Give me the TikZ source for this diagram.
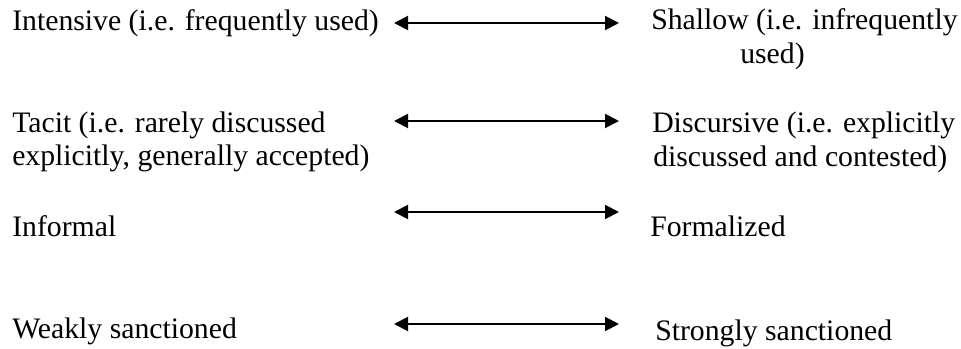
\documentclass[tikz,border=0pt]{standalone}
\usepackage{fontspec}
\setmainfont{Liberation Serif}
\usetikzlibrary{arrows.meta}
\begin{document}
\begin{tikzpicture}[x=0.75pt,y=-0.75pt,
  lbl/.style={anchor=base west, inner sep=0pt, font=\fontsize{22.3}{26}\selectfont},
  twoway/.style={{Triangle[length=10.5pt,width=10.5pt]}-{Triangle[length=10.5pt,width=10.5pt]}, line width=1.5pt}]
\useasboundingbox (0,0) rectangle (961,349);
% left column
\node[lbl] (l1)  at (12,31)  {Intensive (i.e. frequently used)};
\node[lbl] (l2a) at (12,133) {Tacit (i.e. rarely discussed};
\node[lbl] (l2b) at (12,166) {explicitly, generally accepted)};
\node[lbl] (l3)  at (12,237) {Informal};
\node[lbl] (l4)  at (12,339) {Weakly sanctioned};
% right column
\node[lbl] (r1a) at (651,30)  {Shallow (i.e. infrequently};
\node[lbl] (r1b) at (740,64)  {used)};
\node[lbl] (r2a) at (652,133) {Discursive (i.e. explicitly};
\node[lbl] (r2b) at (653,167) {discussed and contested)};
\node[lbl] (r3)  at (650,237) {Formalized};
\node[lbl] (r4)  at (655,340) {Strongly sanctioned};
% arrow ends
\coordinate (a1l) at (394,23);  \coordinate (a1r) at (619,23);
\coordinate (a2l) at (394,121); \coordinate (a2r) at (619,121);
\coordinate (a3l) at (394,212); \coordinate (a3r) at (619,212);
\coordinate (a4l) at (394,324); \coordinate (a4r) at (619,324);
\draw[twoway] (a1l) -- (a1r);
\draw[twoway] (a2l) -- (a2r);
\draw[twoway] (a3l) -- (a3r);
\draw[twoway] (a4l) -- (a4r);
\end{tikzpicture}
\end{document}
